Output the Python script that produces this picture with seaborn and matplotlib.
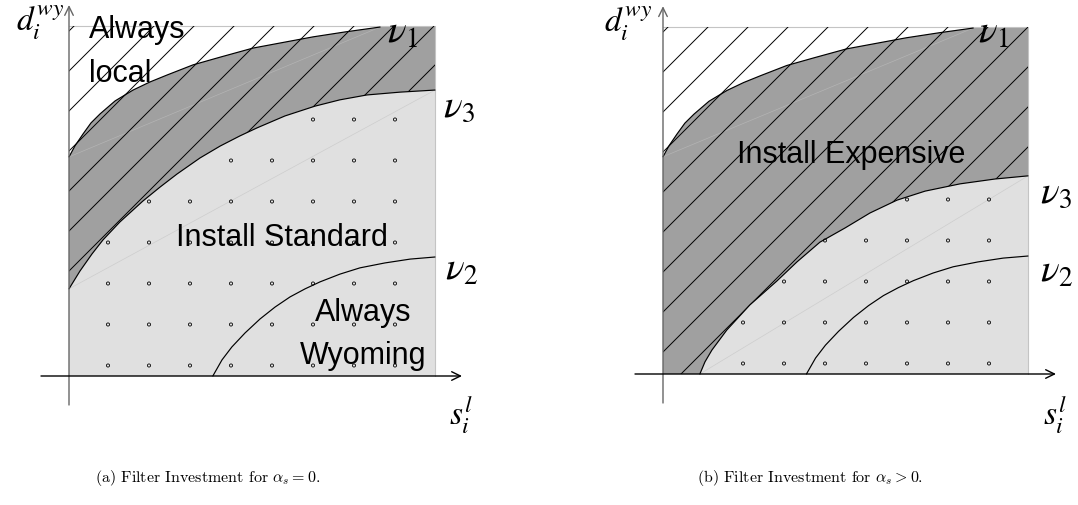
import numpy as np
import matplotlib
matplotlib.use("Agg")
import matplotlib.pyplot as plt
import seaborn as sns
from matplotlib.path import Path

# ---------------- data (normalised: s_i^l in [0,1], d_i^wy in [0,1]) ----------------
nu1_s = [0.0, 0.016, 0.038, 0.060, 0.085, 0.126, 0.175, 0.221, 0.268, 0.339,
         0.413, 0.503, 0.590, 0.667, 0.754, 0.850]
nu1_d = [0.626, 0.657, 0.691, 0.723, 0.749, 0.786, 0.817, 0.840, 0.860, 0.889,
         0.911, 0.937, 0.954, 0.969, 0.983, 0.997]
nu2_s = [0.393, 0.418, 0.445, 0.481, 0.522, 0.563, 0.604, 0.645, 0.686, 0.740,
         0.795, 0.863, 0.932, 1.0]
nu2_d = [0.0, 0.046, 0.083, 0.123, 0.163, 0.197, 0.226, 0.249, 0.269, 0.291,
         0.309, 0.323, 0.334, 0.340]
nu3a_s = [0.0, 0.030, 0.063, 0.093, 0.139, 0.202, 0.249, 0.295, 0.358, 0.413,
          0.467, 0.514, 0.590, 0.672, 0.740, 0.814, 0.904, 1.0]
nu3a_d = [0.249, 0.300, 0.349, 0.389, 0.440, 0.500, 0.540, 0.577, 0.623, 0.657,
          0.686, 0.709, 0.743, 0.771, 0.789, 0.803, 0.811, 0.817]
nu3b_s = [0.101, 0.115, 0.134, 0.175, 0.238, 0.312, 0.367, 0.430, 0.499, 0.567,
          0.641, 0.718, 0.814, 0.910, 1.0]
nu3b_d = [0.0, 0.035, 0.069, 0.127, 0.199, 0.268, 0.323, 0.380, 0.421, 0.464,
          0.501, 0.527, 0.548, 0.562, 0.571]

curve_labels = [r"$\nu_1$", r"$\nu_2$", r"$\nu_3$"]
x_label = r"$s_i^l$"
y_label = r"$d_i^{wy}$"
region_a = ["Always\nlocal", "Install Standard", "Always\nWyoming"]
region_b = ["Install Expensive"]
captions = [r"(a) Filter Investment for $\alpha_s = 0$.",
            r"(b) Filter Investment for $\alpha_s > 0$."]

# ---------------- style ----------------
sns.set_theme(style="white")
plt.rcParams["font.family"] = ["Liberation Sans", "DejaVu Sans"]
plt.rcParams["text.color"] = "black"
DARK = "#a0a0a0"
LIGHT = "#e0e0e0"
W, H = 1078, 505
HATCH = 40.0   # px
DOT = 41.0     # px

fig = plt.figure(figsize=(W / 100, H / 100), dpi=100)


def make_ax(ox, oy, bw, bh):
    ax = fig.add_axes([0, 0, 1, 1])
    ax.set_xlim(-ox / bw, (W - ox) / bw)
    ax.set_ylim(-(H - oy) / bh, oy / bh)
    ax.axis("off")
    ax.patch.set_alpha(0)
    return ax


def panel(ax, bw, bh, n3s, n3d, phase):
    # background box
    ax.fill([0, 1, 1, 0], [0, 0, 1, 1], color=LIGHT, lw=0, zorder=1)
    # region above nu3
    if n3s[0] > 0:
        ps = [0.0] + list(n3s) + [1.0, 0.0]
        pd_ = [0.0] + list(n3d) + [1.0, 1.0]
    else:
        ps = list(n3s) + [1.0, 0.0]
        pd_ = list(n3d) + [1.0, 1.0]
    dark = ax.fill(ps, pd_, color=DARK, lw=0, zorder=2)[0]
    # white region above nu1
    ax.fill(nu1_s + [nu1_s[-1], 0.0], nu1_d + [1.0, 1.0], color="white", lw=0, zorder=3)
    # faint chords (shading artefacts)
    ax.plot([nu1_s[0], nu1_s[-1]], [nu1_d[0], nu1_d[-1]], color="#b4b4b4", lw=0.5, zorder=3.5)
    ax.plot([n3s[0], n3s[-1]], [n3d[0], n3d[-1]], color="#cdcdcd", lw=0.5, zorder=3.5)
    # box border
    ax.plot([0, 1, 1], [1, 1, 0], color="#c4c4c4", lw=0.8, zorder=3.6)
    # hatch lines at 45 degrees (pixel space)
    m = bw / bh
    for k in range(-14, 14):
        s0 = (phase + k * HATCH) / bw
        xs = np.array([s0 - 1.5, s0 + 1.5])
        ln, = ax.plot(xs, m * (xs - s0), color="black", lw=0.7, zorder=4)
        ln.set_clip_path(dark)
    # dots in the light region
    reg = Path(np.column_stack([list(n3s) + [1.0, 1.0, n3s[0]],
                                list(n3d) + [n3d[-1], 0.0, 0.0]]))
    gx, gy = np.meshgrid((39 + DOT * np.arange(8)) / bw, (10.5 + DOT * np.arange(9)) / bh)
    pts = np.column_stack([gx.ravel(), gy.ravel()])
    inside = reg.contains_points(pts) & (pts[:, 1] < 1)
    pts = pts[inside]
    sns.scatterplot(x=pts[:, 0], y=pts[:, 1], ax=ax, marker="o", s=5,
                    facecolor="none", edgecolor="black", linewidth=0.6, zorder=5)
    # curves
    for xs_, ys_ in [(nu1_s, nu1_d), (nu2_s, nu2_d), (n3s, n3d)]:
        sns.lineplot(x=xs_, y=ys_, ax=ax, color="black", lw=0.85, sort=False,
                     estimator=None, zorder=6)
    # axes arrows
    ax.annotate("", xy=(0, 1.06), xytext=(0, -29 / bh),
                arrowprops=dict(arrowstyle="->,head_length=0.45,head_width=0.22",
                                lw=1.0, color="#666666", shrinkA=0, shrinkB=0,
                                mutation_scale=14), zorder=7)
    ax.annotate("", xy=(393 / bw, 0), xytext=(-28 / bw, 0),
                arrowprops=dict(arrowstyle="->,head_length=0.45,head_width=0.22",
                                lw=1.0, color="black", shrinkA=0, shrinkB=0,
                                mutation_scale=14), zorder=7)


MATH = dict(math_fontfamily="stix", color="black", zorder=8)
TXT = dict(color="black", fontsize=22, zorder=8)

# panel (a)
axa = make_ax(69, 376, 366, 350)
panel(axa, 366, 350, nu3a_s, nu3a_d, 15)
axa.text(-0.0137, 1.009, y_label, ha="right", va="center", fontsize=24, **MATH)
axa.text(1.071, -0.111, x_label, ha="center", va="center", fontsize=24, **MATH)
axa.text(0.869, 0.951, curve_labels[0], ha="left", va="baseline", fontsize=28, **MATH)
axa.text(1.022, 0.740, curve_labels[2], ha="left", va="baseline", fontsize=28, **MATH)
axa.text(1.027, 0.274, curve_labels[1], ha="left", va="baseline", fontsize=28, **MATH)
axa.text(0.055, 1.032, region_a[0], ha="left", va="top", linespacing=1.6, **TXT)
axa.text(0.582, 0.371, region_a[1], ha="center", va="baseline", **TXT)
axa.text(0.803, 0.224, region_a[2], ha="center", va="top", multialignment="center",
         linespacing=1.6, **TXT)

# panel (b)
axb = make_ax(663, 374, 365, 347)
panel(axb, 365, 347, nu3b_s, nu3b_d, 18)
axb.text(-0.030, 1.009, y_label, ha="right", va="center", fontsize=24, **MATH)
axb.text(1.073, -0.118, x_label, ha="center", va="center", fontsize=24, **MATH)
axb.text(0.863, 0.954, curve_labels[0], ha="left", va="baseline", fontsize=28, **MATH)
axb.text(1.033, 0.493, curve_labels[2], ha="left", va="baseline", fontsize=28, **MATH)
axb.text(1.033, 0.265, curve_labels[1], ha="left", va="baseline", fontsize=28, **MATH)
axb.text(0.515, 0.608, region_b[0], ha="center", va="baseline", **TXT)

# captions
for cx, cap in zip([207.5, 810], captions):
    fig.text(cx / W, 1 - 478 / H, cap, ha="center", va="center", fontsize=11.5,
             family="cmr10", math_fontfamily="cm", color="black")

fig.savefig("out.png", dpi=100)
